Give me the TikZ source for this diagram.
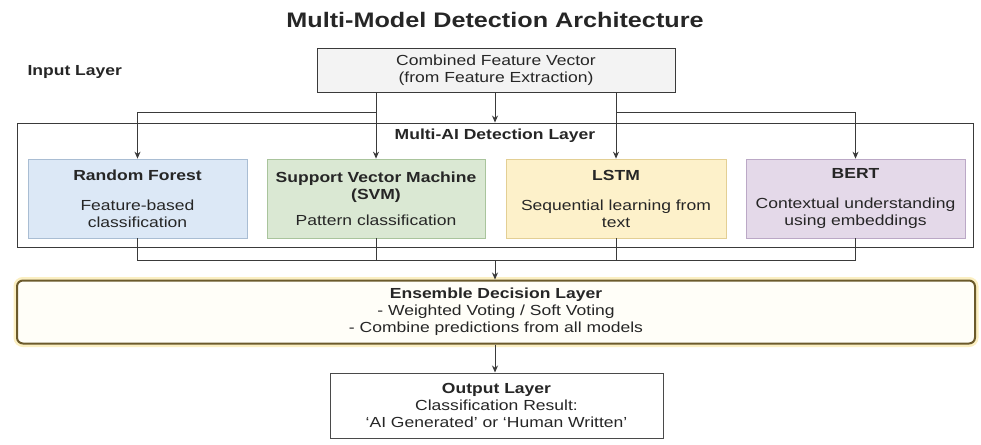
\documentclass[tikz,border=0pt]{standalone}
\usepackage{fontspec}
\setmainfont[FakeStretch=1.2]{Liberation Sans}
\usetikzlibrary{arrows.meta,calc}

\definecolor{inkc}{HTML}{262626}
\definecolor{edgec}{HTML}{3A3A3A}
\definecolor{outedge}{HTML}{4A4A4A}
\definecolor{cfvfill}{HTML}{F3F3F3}
\definecolor{rffill}{HTML}{DCE8F6}
\definecolor{rfedge}{HTML}{A9BDD3}
\definecolor{svmfill}{HTML}{DAE8D3}
\definecolor{svmedge}{HTML}{A9C49C}
\definecolor{lstmfill}{HTML}{FDF1CA}
\definecolor{lstmedge}{HTML}{E3CF94}
\definecolor{bertfill}{HTML}{E4D9E9}
\definecolor{bertedge}{HTML}{BBA8C6}
\definecolor{ensedge}{HTML}{6B5A2C}
\definecolor{ensglow}{HTML}{FBEFC2}
\definecolor{ensfill}{HTML}{FFFEF8}

\begin{document}
\begin{tikzpicture}[x=1pt,y=-1pt,
  every node/.style={text=inkc},
  txt/.style={font=\fontsize{14.6}{17}\selectfont, align=center},
  hdr/.style={font=\fontsize{14.6}{17}\selectfont\bfseries},
  plainbox/.style={draw=edgec, line width=0.9pt, inner sep=0pt},
  modelbox/.style={txt, rectangle, line width=0.7pt, inner sep=0pt,
    minimum height=79pt},
  arr/.style={draw=edgec, line width=0.9pt, -{Stealth[length=7pt,width=6pt]}},
  wire/.style={draw=edgec, line width=0.9pt}
]
\useasboundingbox (0,0) rectangle (981,444);

% title and side label
\node[font=\fontsize{21}{25}\selectfont\bfseries] (title) at (495,20)
  {Multi-Model Detection Architecture};
\node[hdr, anchor=west] (inlabel) at (24,72) {Input Layer};

% input vector
\node[plainbox, fill=cfvfill, txt, minimum width=358pt, minimum height=44pt]
  (cfv) at (496,70) {Combined Feature Vector\\(from Feature Extraction)};

% detection layer frame
\node[plainbox, minimum width=956pt, minimum height=124pt] (layer) at (495,185) {};
\node[hdr] (layertitle) at (495,136) {Multi-AI Detection Layer};

% the four models
\node[modelbox, fill=rffill, draw=rfedge, minimum width=219pt] (rf) at (137.5,198.5)
  {\textbf{Random Forest}\\[13pt]Feature-based\\classification};
\node[modelbox, fill=svmfill, draw=svmedge, minimum width=218pt] (svm) at (376,198.5)
  {\textbf{Support Vector Machine}\\\textbf{(SVM)}\\[9pt]Pattern classification};
\node[modelbox, fill=lstmfill, draw=lstmedge, minimum width=220pt] (lstm) at (616,198.5)
  {\textbf{LSTM}\\[13pt]Sequential learning from\\text};
\node[modelbox, fill=bertfill, draw=bertedge, minimum width=219pt] (bert) at (855.5,198.5)
  {\textbf{BERT}\\[13pt]Contextual understanding\\using embeddings};

% ensemble stage
\node[txt, rounded corners=6pt, draw=ensedge, line width=2pt, fill=ensfill,
  preaction={draw=ensglow, line width=7pt},
  minimum width=958pt, minimum height=63pt, inner sep=0pt] (ens) at (496,312)
  {\textbf{Ensemble Decision Layer}\\- Weighted Voting / Soft Voting\\- Combine predictions from all models};

% output stage
\node[txt, draw=outedge, line width=1pt, fill=white, minimum width=333pt,
  minimum height=65pt, inner sep=0pt] (out) at (496.5,405.5)
  {\textbf{Output Layer}\\Classification Result:\\`AI Generated' or `Human Written'};

% fan-out from the feature vector
\coordinate (splitL) at (376,112);
\coordinate (splitR) at (616,112);
\draw[arr] (cfv.south -| svm.north) -- (svm.north);
\draw[arr] (splitL) -| (rf.north);
\draw[arr] (cfv.south -| lstm.north) -- (lstm.north);
\draw[arr] (splitR) -| (bert.north);
\draw[arr] (cfv.south -| layer.north) -- (layer.north);

% merge of the model outputs
\coordinate (merge) at (495,260);
\draw[wire] (rf.south) -- (rf.south |- merge) -| (bert.south);
\draw[wire] (svm.south) -- (svm.south |- merge);
\draw[wire] (lstm.south) -- (lstm.south |- merge);
\draw[arr] (merge) -- (merge |- ens.north);
\draw[arr] (ens.south -| merge) -- (out.north -| merge);
\end{tikzpicture}
\end{document}
